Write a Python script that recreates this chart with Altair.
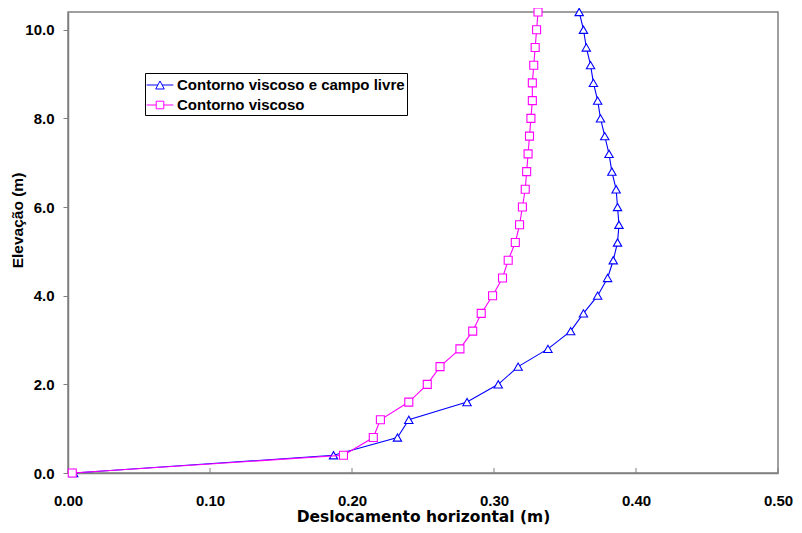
import altair as alt
import pandas as pd

elev = [0.0, 0.4, 0.8, 1.2, 1.6, 2.0, 2.4, 2.8, 3.2, 3.6, 4.0, 4.4, 4.8, 5.2,
        5.6, 6.0, 6.4, 6.8, 7.2, 7.6, 8.0, 8.4, 8.8, 9.2, 9.6, 10.0, 10.4]
campo_livre = [0.004, 0.187, 0.232, 0.240, 0.281, 0.303, 0.317, 0.338, 0.354,
               0.363, 0.373, 0.380, 0.384, 0.387, 0.388, 0.387, 0.386, 0.383,
               0.381, 0.378, 0.375, 0.373, 0.370, 0.368, 0.365, 0.363, 0.360]
viscoso = [0.003, 0.194, 0.215, 0.220, 0.240, 0.253, 0.262, 0.276, 0.285,
           0.291, 0.299, 0.306, 0.310, 0.315, 0.318, 0.320, 0.322, 0.323,
           0.324, 0.325, 0.326, 0.327, 0.327, 0.328, 0.329, 0.330, 0.331]
series_names = ["Contorno viscoso e campo livre", "Contorno viscoso"]
series_colors = ["#0000FF", "#FF00FF"]
x_ticks = [0.0, 0.1, 0.2, 0.3, 0.4, 0.5]
y_ticks = [0, 2, 4, 6, 8, 10]

FONT = "Liberation Sans"
WIDE = "DejaVu Sans"

df_a = pd.DataFrame({"elev": elev, "disp": campo_livre, "series": series_names[0]})
df_b = pd.DataFrame({"elev": elev, "disp": viscoso, "series": series_names[1]})
df_all = pd.concat([df_a, df_b], ignore_index=True)
df_ticks = pd.DataFrame({"disp": x_ticks[1:]})

xscale = alt.Scale(domain=[0, 0.5], nice=False)
yscale = alt.Scale(domain=[0, 10.4], nice=False)

xaxis = alt.Axis(values=x_ticks, format=".2f", title="Deslocamento horizontal (m)",
                 ticks=False, labelPadding=20, grid=False, labelFlush=False,
                 titleY=43, titleBaseline="middle", titleFont=WIDE, titleFontSize=15.5)
xenc = alt.X("disp:Q", scale=xscale, axis=xaxis)
yenc = alt.Y("elev:Q", scale=yscale,
             axis=alt.Axis(values=y_ticks, format=".1f", title="Elevação (m)",
                           tickSize=5, labelPadding=9, grid=False, labelFlush=False,
                           titleX=-51, titleY=208, titleBaseline="middle",
                           titleAlign="center", titleAngle=270, titleFontSize=15.5))

def series_layers(df, color, shape, size):
    base = alt.Chart(df)
    line = base.mark_line(color=color, strokeWidth=1.1).encode(
        x=xenc, y=yenc, order=alt.Order("elev:Q"))
    pts = base.mark_point(shape=shape, size=size, stroke=color, fill="white",
                          filled=False, fillOpacity=1, strokeWidth=1.1, opacity=1).encode(
        x=xenc, y=yenc)
    return [line, pts]

tri_path = ("M-1.4,0L-0.21,0M0.21,0L1.4,0"
            "M-0.45,0.42L0,-0.42L0.45,0.42Z")
sq_path = ("M-1.4,0L-0.4,0M0.4,0L1.4,0"
           "M-0.4,-0.4L0.4,-0.4L0.4,0.4L-0.4,0.4Z")

lbl_expr = "datum.label + '\u00a0\u00a0\u00a0'"
legend_layer = alt.Chart(df_all).mark_point(opacity=0).encode(
    x=xenc, y=yenc,
    stroke=alt.Stroke("series:N", scale=alt.Scale(domain=series_names, range=series_colors),
                      legend=alt.Legend(title=None, labelExpr=lbl_expr)),
    shape=alt.Shape("series:N", scale=alt.Scale(domain=series_names, range=[tri_path, sq_path]),
                    legend=alt.Legend(title=None, labelExpr=lbl_expr)),
)

tick_layer = alt.Chart(df_ticks).mark_rule(color="#808080", strokeWidth=1).encode(
    x=xenc, y=alt.value(461), y2=alt.value(456))

layers = (series_layers(df_a, series_colors[0], "triangle-up", 70)
          + series_layers(df_b, series_colors[1], "square", 64))

chart = alt.layer(tick_layer, *layers, legend_layer).properties(
    width=710, height=461,
    autosize=alt.AutoSizeParams(type="none"),
    padding={"left": 60, "top": 4, "right": 16, "bottom": 56},
).configure_view(
    stroke="#808080", strokeWidth=1.5
).configure_axis(
    domainColor="#808080", domainWidth=1.5, tickColor="#808080",
    labelFont=FONT, labelFontSize=15, labelFontWeight="bold", labelColor="black",
    titleFont=FONT, titleFontSize=15, titleFontWeight="bold", titleColor="black",
).configure_legend(
    orient="none", legendX=77, legendY=61,
    strokeColor="black", fillColor="white", padding=2,
    symbolSize=361, symbolStrokeWidth=1, symbolOpacity=1, symbolFillColor="white",
    symbolOffset=3,
    labelFont=FONT, labelFontSize=15, labelFontWeight="bold", labelColor="black",
    labelOffset=7, rowPadding=2, labelLimit=400,
)

chart.save("out.html", embed_options={"renderer": "svg", "actions": False})
